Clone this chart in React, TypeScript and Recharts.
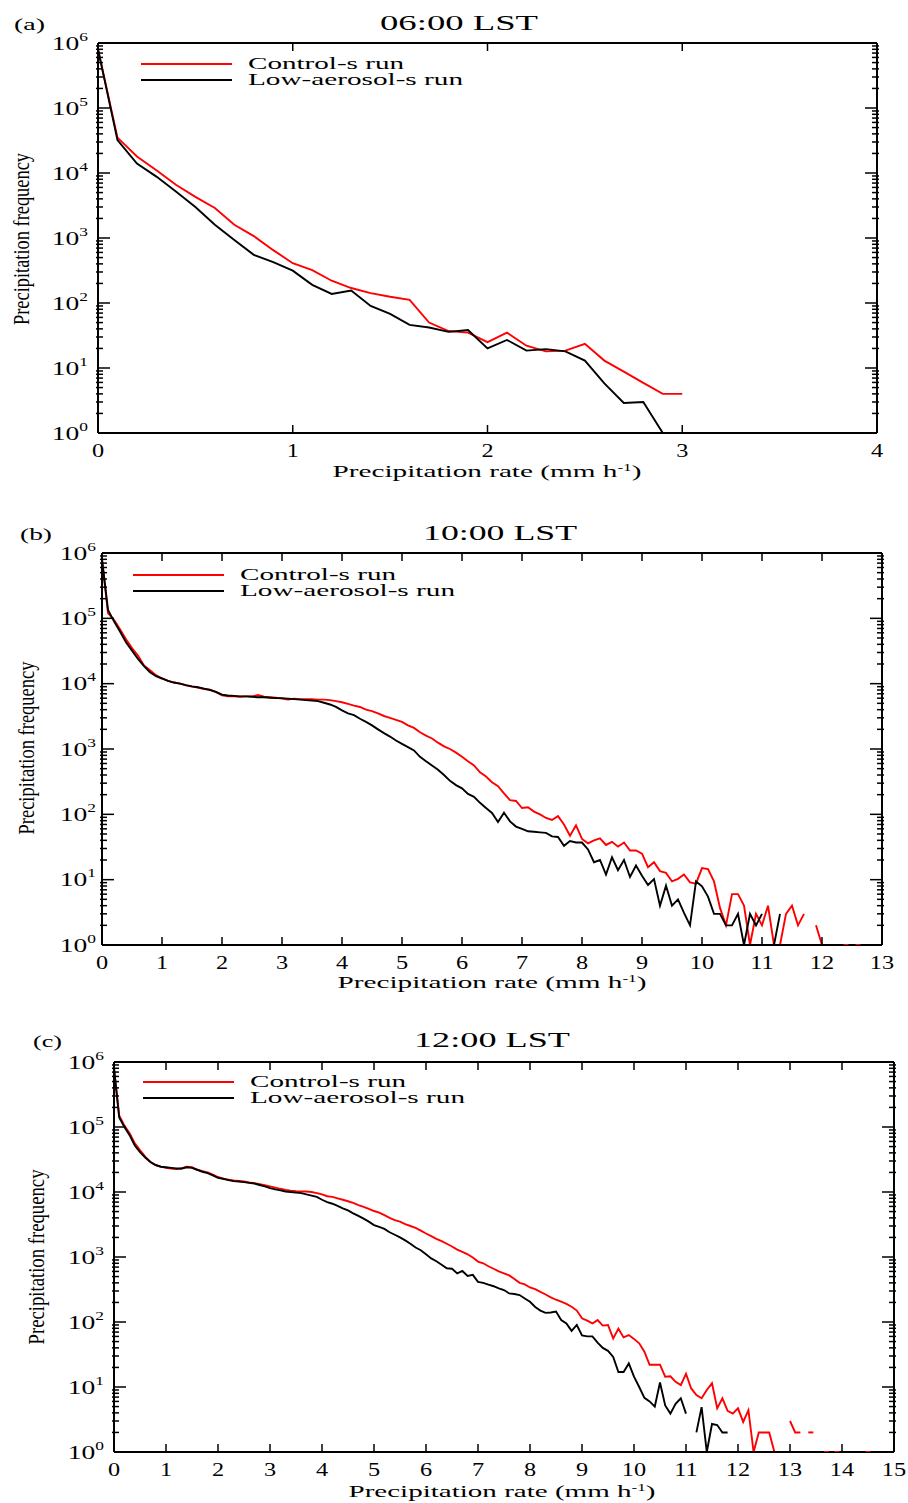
import { Legend, Line, LineChart, XAxis, YAxis } from "recharts";

const SERIF = "'Liberation Serif', 'DejaVu Serif', serif";

// precipitation-rate bins, 0.1 mm/h wide
const bins = (n: number) => Array.from({ length: n }, (_, i) => Math.round(i) / 10);

// (a) 06:00 LST
const rateA = bins(31);
const controlA = [8e5, 3.5e4, 1.8e4, 1.1e4, 6600, 4300, 2900, 1600, 1070, 650, 410, 320, 220, 170, 142, 125, 112, 50, 37, 35, 25, 35, 22, 18, 18.5, 23.5, 13, 8.8, 5.9, 4, 4];
const lowA = [8e5, 3.2e4, 1.4e4, 8800, 5200, 3000, 1600, 930, 550, 425, 315, 190, 138, 155, 90, 68, 46, 42, 36, 38.5, 20, 27, 18.5, 19.5, 18, 13, 5.8, 2.9, 3, 1, null];

// (b) 10:00 LST
const rateB = bins(127);
const controlB = [
  8e5, 1.2e5, 9.5e4, 6.8e4, 4.8e4, 3.5e4, 2.7e4, 1.9e4, 1.6e4, 1.35e4,
  1.2e4, 1.1e4, 1.04e4, 1.0e4, 9400, 9000, 8700, 8300, 8100, 7400,
  6600, 6400, 6400, 6300, 6400, 6400, 6700, 6300, 6200, 6100,
  5900, 5700, 5900, 5800, 5800, 5800, 5700, 5700, 5600, 5400,
  5200, 4900, 4600, 4400, 4000, 3800, 3500, 3200, 3000, 2800,
  2600, 2300, 2100, 1800, 1600, 1450, 1250, 1100, 1000, 880,
  760, 650, 560, 440, 380, 310, 270, 210, 165, 160,
  125, 128, 110, 100, 88, 82, 94, 70, 47, 68,
  42, 36, 40, 43, 34, 38, 32, 37, 28, 28,
  25, 15.5, 18.5, 13.5, 12.7, 9.4, 10.3, 12, 9.1, 8.7,
  15, 14.5, 9.4, 3.7, 2, 6, 6, 4, 1, 3,
  2, 4, 1, 1, 3, 4, 2, 3, null, 2,
  1, 1, null, null, 1, null, 1,
];
const lowB = [
  8e5, 1.35e5, 9e4, 6.3e4, 4.3e4, 3.2e4, 2.4e4, 1.85e4, 1.5e4, 1.3e4,
  1.2e4, 1.1e4, 1.04e4, 1.0e4, 9500, 9100, 8800, 8400, 8000, 7500,
  6800, 6600, 6500, 6400, 6400, 6300, 6200, 6200, 6100, 6000,
  6000, 5900, 5800, 5700, 5600, 5500, 5400, 5100, 4800, 4400,
  3900, 3500, 3300, 2900, 2600, 2300, 2000, 1750, 1550, 1350,
  1200, 1070, 950, 760, 650, 560, 480, 400, 325, 280,
  250, 205, 185, 150, 125, 105, 76, 106, 78, 65,
  60, 55, 54, 53, 52, 46, 45, 33, 39, 37,
  37, 29, 18.5, 20, 12, 22, 14, 20, 11, 16.5,
  11.5, 8.3, 10.2, 4, 8.1, 4, 5, 3.1, 2, 9.4,
  7.9, 5.5, 3, 3, 2, 2, 3, 1, 3, 2,
  3, null, 1, 3, null, null, null, null, null, null,
  null, null, null, null, null, null, null,
];

// (c) 12:00 LST
const rateC = bins(146);
const controlC = [
  8e5, 1.5e5, 1.05e5, 8e4, 5.6e4, 4.4e4, 3.5e4, 2.9e4, 2.6e4, 2.45e4,
  2.35e4, 2.3e4, 2.25e4, 2.3e4, 2.45e4, 2.4e4, 2.2e4, 2.1e4, 2.0e4, 1.85e4,
  1.7e4, 1.6e4, 1.55e4, 1.5e4, 1.48e4, 1.45e4, 1.4e4, 1.37e4, 1.32e4, 1.27e4,
  1.22e4, 1.17e4, 1.12e4, 1.08e4, 1.05e4, 1.03e4, 1.02e4, 1.02e4, 1.0e4, 9600,
  9200, 8600, 8400, 8000, 7600, 7200, 6800, 6300, 5900, 5500,
  5100, 4800, 4400, 4000, 3700, 3500, 3200, 3000, 2800, 2550,
  2300, 2100, 1900, 1750, 1600, 1450, 1300, 1200, 1100, 980,
  850, 800, 720, 660, 600, 560, 520, 460, 400, 380,
  340, 320, 290, 265, 240, 220, 205, 190, 172, 150,
  114, 105, 95, 107, 88, 90, 56, 79, 58, 63,
  55, 47, 35, 22, 22, 22, 14.4, 14.6, 12, 10.7,
  16, 9.5, 7.5, 6.7, 9, 11.4, 4.7, 6.7, 4.3, 3.9,
  4.7, 2.9, 4.4, 1, 2, 2, 2, 1, null, null,
  3, 2, 2, null, 2, null, null, 1, null, 1,
  null, null, null, null, null, 1,
];
const lowC = [
  8e5, 1.4e5, 1.0e5, 7.5e4, 5.2e4, 4.1e4, 3.4e4, 2.9e4, 2.6e4, 2.45e4,
  2.4e4, 2.35e4, 2.3e4, 2.3e4, 2.4e4, 2.35e4, 2.2e4, 2.05e4, 1.95e4, 1.8e4,
  1.65e4, 1.6e4, 1.52e4, 1.47e4, 1.45e4, 1.42e4, 1.38e4, 1.35e4, 1.28e4, 1.22e4,
  1.15e4, 1.1e4, 1.06e4, 1.02e4, 1.0e4, 9800, 9600, 9200, 8800, 8400,
  7600, 7000, 6600, 6100, 5600, 5200, 4700, 4300, 3900, 3500,
  3100, 2900, 2700, 2400, 2200, 2000, 1800, 1600, 1400, 1270,
  1100, 950, 860, 760, 670, 660, 560, 610, 510, 530,
  415, 400, 375, 355, 330, 310, 275, 270, 260, 230,
  205, 170, 150, 138, 140, 145, 107, 95, 73, 90,
  62, 60, 60, 48, 40, 36, 29, 17, 17, 23,
  14.4, 10, 6.8, 6, 5, 11.7, 5.2, 3.9, 5.5, 6.7,
  3.9, null, 2, 4.9, 1, 2.7, 2.6, 2, 2, null,
  null, null, null, null, null, null, null, null, null, null,
  null, null, null, null, null, null, null, null, null, null,
  null, null, null, null, null, null,
];

const yMajor = [1, 10, 100, 1000, 10000, 100000, 1000000];
const yMinor = yMajor.slice(0, -1).flatMap((d) => [2, 3, 4, 5, 6, 7, 8, 9].map((k) => k * d));
const ticksA = [0, 1, 2, 3, 4];
const ticksB = [0, 1, 2, 3, 4, 5, 6, 7, 8, 9, 10, 11, 12, 13];
const ticksC = [0, 1, 2, 3, 4, 5, 6, 7, 8, 9, 10, 11, 12, 13, 14, 15];

const legendWidths = [156, 215];

// plot box edges in page pixels: left, right, top, bottom; other positions are relative to each chart
const panels = [
  {
    letter: "(a)", title: "06:00 LST", rate: rateA, control: controlA, low: lowA, xMax: 4, xTicks: ticksA,
    top: 0, height: 500, box: [98, 877, 43, 433], yGap: 10,
    letterPos: [14, 30, 31], titlePos: [459, 30, 158], xTitlePos: [487, 477, 309], yTitlePos: [29, 239, 172],
    legendPos: [141, 64, 107],
  },
  {
    letter: "(b)", title: "10:00 LST", rate: rateB, control: controlB, low: lowB, xMax: 13, xTicks: ticksB,
    top: 500, height: 510, box: [102, 882, 553, 945], yGap: 6,
    letterPos: [20, 40, 32], titlePos: [500, 40, 154], xTitlePos: [492, 488, 309], yTitlePos: [34, 248, 173],
    legendPos: [133, 75, 107],
  },
  {
    letter: "(c)", title: "12:00 LST", rate: rateC, control: controlC, low: lowC, xMax: 15, xTicks: ticksC,
    top: 1010, height: 493, box: [114, 894, 1062, 1452], yGap: 10,
    letterPos: [33, 37, 29], titlePos: [492, 37, 156], xTitlePos: [502, 487, 307], yTitlePos: [44, 247, 175],
    legendPos: [143, 72, 107],
  },
];

// tick marks point into the plot box, so they are drawn by the tick components themselves
const inward: Record<string, [number, number]> = { left: [1, 0], right: [-1, 0], bottom: [0, -1], top: [0, 1] };

const Mark = (props: any) => {
  const { x, y, side, len, shift = 0 } = props;
  const [dx, dy] = inward[side];
  const x0 = x + dx * shift;
  const y0 = y + dy * shift;
  return <line x1={x0} y1={y0} x2={x0 + dx * len} y2={y0 + dy * len} stroke="#000" strokeWidth={1.5} />;
};

const XTick = (props: any) => {
  const { x, y, payload } = props;
  return (
    <g>
      <Mark x={x} y={y} side="bottom" len={8} />
      <g transform={`translate(${x},${y}) scale(1.35,1)`}>
        <text x={0} y={24} textAnchor="middle" fontFamily={SERIF} fontSize={18} fill="#000">
          {payload.value}
        </text>
      </g>
    </g>
  );
};

const YTick = (props: any) => {
  const { x, y, payload, gap } = props;
  const exp = Math.round(Math.log10(payload.value));
  return (
    <g>
      <Mark x={x} y={y} side="left" len={12} />
      <g transform={`translate(${x - gap},${y}) scale(1.45,1)`}>
        <text x={0} y={6.5} textAnchor="end" fontFamily={SERIF} fontSize={19} fill="#000">
          10<tspan dy={-9} fontSize={12}>{exp}</tspan>
        </text>
      </g>
    </g>
  );
};

// single points between gaps show up as short dashes in the original
const gapDot = (series: (number | null)[]) => (props: any) => {
  const { cx, cy, index, stroke } = props;
  const lone = series[index] != null && series[index - 1] == null && series[index + 1] == null;
  if (!lone || cx == null || cy == null) return <g key={`d${index}`} />;
  return <line key={`d${index}`} x1={cx - 2.5} x2={cx + 2.5} y1={cy} y2={cy} stroke={stroke} strokeWidth={2} />;
};

const legendContent = (dx: number) => (props: any) => {
  const items = props.payload || [];
  return (
    <svg width={360} height={36} style={{ overflow: "visible", display: "block" }}>
      {items.map((it: any, i: number) => (
        <g key={it.value}>
          <line x1={0} x2={91} y1={8 + 16 * i} y2={8 + 16 * i} stroke={it.color} strokeWidth={1.8} />
          <text x={dx} y={13 + 16 * i} fontFamily={SERIF} fontSize={17} fill="#000"
            textLength={legendWidths[i]} lengthAdjust="spacingAndGlyphs">
            {it.value}
          </text>
        </g>
      ))}
    </svg>
  );
};

function Panel({ p }: { p: (typeof panels)[number] }) {
  const data = p.rate.map((r, i) => ({ rate: r, control: p.control[i], low: p.low[i] }));
  const [left, right, top, bottom] = p.box;
  // every axis is 1px thick; two stacked on each side
  const margin = {
    left: left - 2,
    right: 908 - right - 2,
    top: top - p.top - 1,
    bottom: p.top + p.height - bottom - 1,
  };
  const frame = { stroke: "#000", strokeWidth: 2 };
  const yCommon = {
    type: "number" as const, scale: "log" as const, domain: [1, 1000000], allowDataOverflow: true,
    width: 1, interval: 0 as const, tickSize: 0, tickMargin: 0, tickLine: false,
  };
  const xCommon = {
    type: "number" as const, dataKey: "rate", domain: [0, p.xMax], allowDataOverflow: true,
    ticks: p.xTicks, height: 1, interval: 0 as const, tickSize: 0, tickMargin: 0, tickLine: false,
    axisLine: frame,
  };
  return (
    <div style={{ position: "absolute", left: 0, top: p.top, width: 908, height: p.height }}>
      <LineChart width={908} height={p.height} data={data} margin={margin}>
        <XAxis xAxisId="b" {...xCommon} tick={<XTick />} />
        <XAxis xAxisId="t" orientation="top" {...xCommon} tick={<Mark side="top" len={8} />} />
        <YAxis yAxisId="l" {...yCommon} ticks={yMajor} axisLine={frame} tick={<YTick gap={p.yGap} />} />
        <YAxis yAxisId="lm" {...yCommon} ticks={yMinor} axisLine={false} tick={<Mark side="left" len={7} shift={-1} />} />
        <YAxis yAxisId="r" orientation="right" {...yCommon} ticks={yMajor} axisLine={frame}
          tick={<Mark side="right" len={12} />} />
        <YAxis yAxisId="rm" orientation="right" {...yCommon} ticks={yMinor} axisLine={false}
          tick={<Mark side="right" len={7} shift={-1} />} />
        <Legend layout="vertical" align="center" verticalAlign="middle"
          wrapperStyle={{ left: p.legendPos[0], top: p.legendPos[1] - 8, width: 360, height: 36 }}
          content={legendContent(p.legendPos[2])} />
        <Line xAxisId="b" yAxisId="l" type="linear" dataKey="control" name="Control-s run" stroke="#ff0000"
          strokeWidth={1.9} dot={gapDot(p.control)} activeDot={false} isAnimationActive={false} />
        <Line xAxisId="b" yAxisId="l" type="linear" dataKey="low" name="Low-aerosol-s run" stroke="#000000"
          strokeWidth={1.9} dot={gapDot(p.low)} activeDot={false} isAnimationActive={false} />
      </LineChart>
      <svg width={908} height={p.height} style={{ position: "absolute", left: 0, top: 0, pointerEvents: "none" }}>
        <text x={p.letterPos[0]} y={p.letterPos[1]} fontFamily={SERIF} fontSize={17}
          textLength={p.letterPos[2]} lengthAdjust="spacingAndGlyphs">{p.letter}</text>
        <text x={p.titlePos[0]} y={p.titlePos[1]} textAnchor="middle" fontFamily={SERIF} fontSize={22}
          textLength={p.titlePos[2]} lengthAdjust="spacingAndGlyphs">{p.title}</text>
        <text x={p.xTitlePos[0]} y={p.xTitlePos[1]} textAnchor="middle" fontFamily={SERIF} fontSize={17}
          textLength={p.xTitlePos[2]} lengthAdjust="spacingAndGlyphs">
          Precipitation rate (mm h<tspan dy={-6} fontSize={10}>-1</tspan><tspan dy={6}>)</tspan>
        </text>
        <text transform={`translate(${p.yTitlePos[0]},${p.yTitlePos[1]}) scale(1.45,1) rotate(-90)`}
          textAnchor="middle" fontFamily={SERIF} fontSize={16}
          textLength={p.yTitlePos[2]} lengthAdjust="spacingAndGlyphs">Precipitation frequency</text>
      </svg>
    </div>
  );
}

export default function App() {
  return (
    <div style={{ position: "absolute", left: 0, top: 0, width: 908, height: 1503, background: "#fff" }}>
      {panels.map((p) => (
        <Panel key={p.letter} p={p} />
      ))}
    </div>
  );
}
